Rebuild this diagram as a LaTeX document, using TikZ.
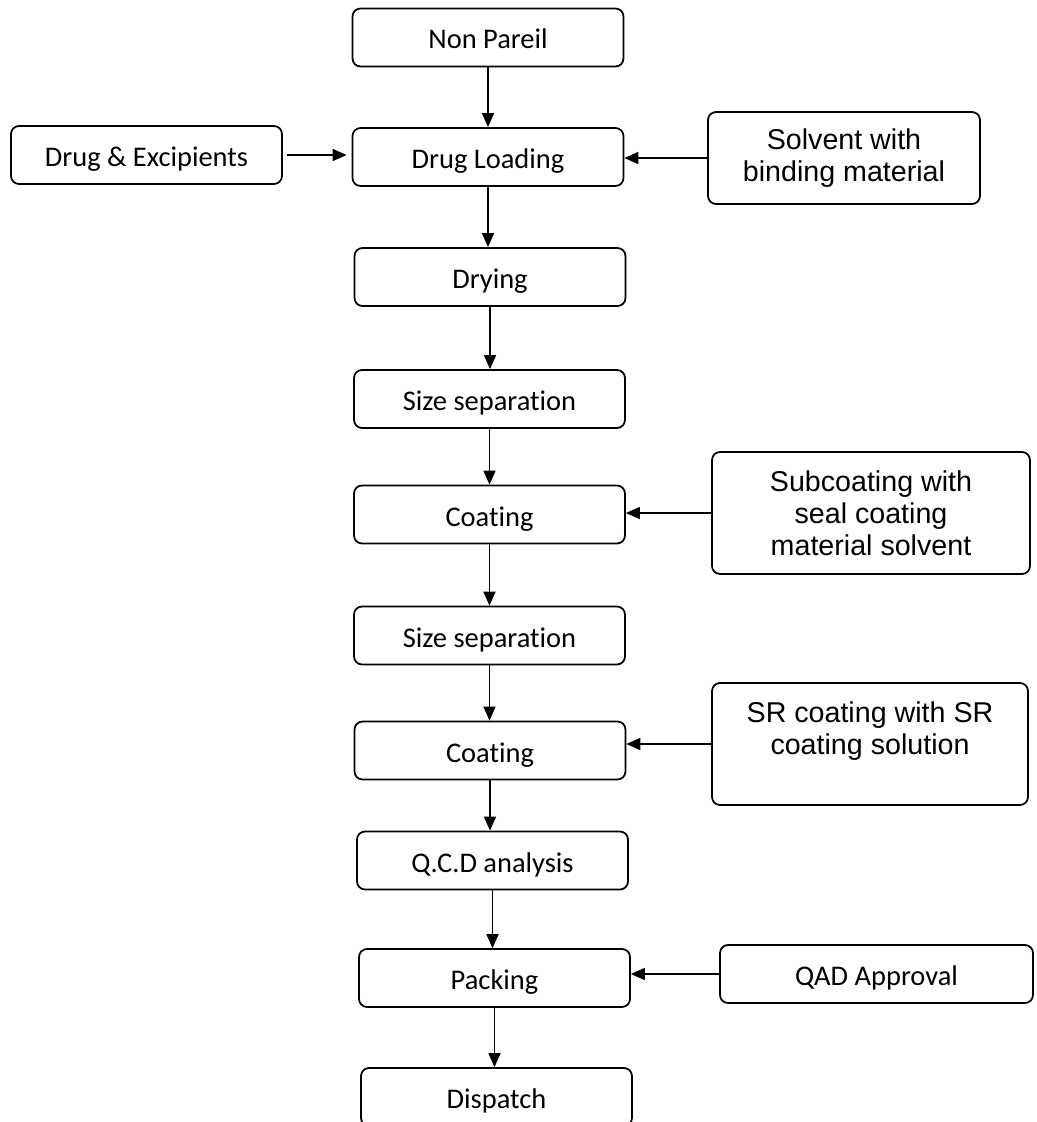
\documentclass[tikz,border=0pt]{standalone}
\usepackage{fontspec}
\setmainfont{Carlito}[Ligatures=NoCommon]
\newfontfamily\arialfont{Liberation Sans}
\usepackage{tikz}
\usetikzlibrary{arrows.meta}
\tikzset{
  boxed/.style={rectangle, draw=black, line width=1pt, rounded corners=0.16cm,
    minimum width=5.42cm, minimum height=1.16cm, inner sep=0pt},
  stage/.style={boxed, text height=0.46cm, text depth=0cm,
    font=\fontsize{16.2}{19}\selectfont},
  side/.style={boxed, align=center, font=\arialfont\fontsize{16.3}{18.2}\selectfont},
  flow/.style={line width=0.9pt, -{Triangle[length=0.28cm,width=0.24cm]}}
}

\begin{document}
\begin{tikzpicture}[x=0.02cm, y=-0.02cm]
        \useasboundingbox (0,0) rectangle (1036,1122);
        \clip (0,0) rectangle (1036,1122);

        \node[stage] (np) at (488, 37.5) {Non Pareil};
        \node[stage] (de) at (146.5, 155) {Drug \& Excipients};
        \node[stage] (dl) at (488, 157) {Drug Loading};
        \node[side, minimum width=5.44cm, minimum height=1.84cm] (sol) at (844, 158) {Solvent with\\binding material};
        \node[stage] (dry) at (490, 277) {Drying};
        \node[stage] (ss1) at (489.5, 399) {Size separation};
        \node[stage] (c1) at (489.5, 514.5) {Coating};
        \node[side, minimum width=6.36cm, minimum height=2.44cm] (sub) at (871, 513) {Subcoating with\\seal coating\\material solvent};
        \node[stage] (ss2) at (489.5, 635.5) {Size separation};
        \node[stage] (c2) at (490, 750.5) {Coating};
        \node[side, minimum width=6.32cm, minimum height=2.44cm] (sr) at (870, 744) {SR coating with SR\\coating solution\\\mbox{}};
        \node[stage] (qcd) at (492.5, 860.5) {Q.C.D analysis};
        \node[stage] (pack) at (494.5, 978) {Packing};
        \node[stage, minimum width=6.26cm] (qad) at (876.5, 974) {QAD Approval};
        \node[stage] (disp) at (496.5, 1097) {Dispatch};

        % main line, top to bottom
        \foreach \from/\to in {
          np/dl, dl/dry, dry/ss1, ss1/c1, c1/ss2,
          ss2/c2, c2/qcd, qcd/pack, pack/disp}
        \draw[flow] (\from.south) -- (\from.south |- \to.north);

        % inputs from the side
        \draw[flow, shorten <=0.08cm, shorten >=0.1cm] (de.east) -- (de.east -| dl.west);
        \foreach \from/\to in {sol/dl, sub/c1, sr/c2, qad/pack}
        \draw[flow] (\from.west) -- (\from.west -| \to.east);
      \end{tikzpicture}
\end{document}
